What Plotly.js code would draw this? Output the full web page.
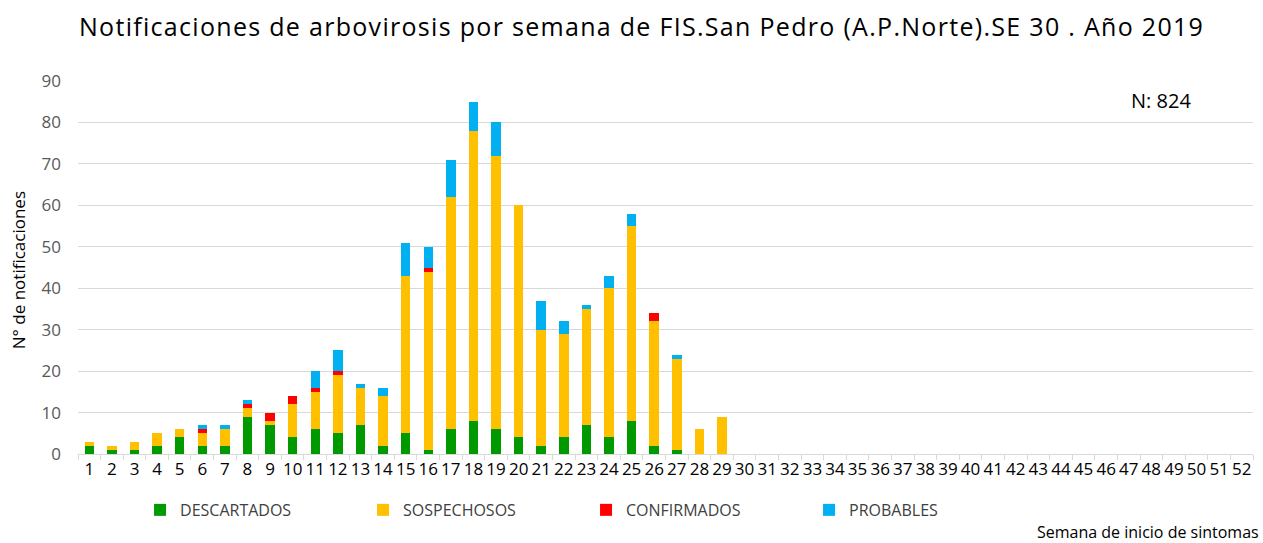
<!DOCTYPE html>
<html>
<head>
<meta charset="utf-8">
<script src="https://cdn.plot.ly/plotly-3.0.1.min.js"></script>
<style>
html,body{margin:0;padding:0;background:#fff;}
#chart{width:1263px;height:543px;}
#chart .gtitle{letter-spacing:1.3px;}
</style>
</head>
<body>
<div id="chart"></div>
<script>
// Semanas epidemiológicas (eje X)
const weeks = ["1","2","3","4","5","6","7","8","9","10","11","12","13","14","15","16","17","18","19","20","21","22","23","24","25","26","27","28","29","30","31","32","33","34","35","36","37","38","39","40","41","42","43","44","45","46","47","48","49","50","51","52"];
// Semanas con notificaciones (1 a 29)
const dataWeeks = ["1","2","3","4","5","6","7","8","9","10","11","12","13","14","15","16","17","18","19","20","21","22","23","24","25","26","27","28","29"];
const descartados = [2,1,1,2,4,2,2,9,7,4,6,5,7,2,5,1,6,8,6,4,2,4,7,4,8,2,1,0,0];
const sospechosos = [1,1,2,3,2,3,4,2,1,8,9,14,9,12,38,43,56,70,66,56,28,25,28,36,47,30,22,6,9];
const confirmados = [0,0,0,0,0,1,0,1,2,2,1,1,0,0,0,1,0,0,0,0,0,0,0,0,0,2,0,0,0];
const probables   = [0,0,0,0,0,1,1,1,0,0,4,5,1,2,8,5,9,7,8,0,7,3,1,3,3,0,1,0,0];
const seriesNames = ["DESCARTADOS","SOSPECHOSOS","CONFIRMADOS","PROBABLES"];
const seriesColors = ["#009900","#FFC000","#FF0000","#00B0F0"];
const yTicks = [0,10,20,30,40,50,60,70,80,90];

const FONT = "Open Sans, sans-serif";
const seriesValues = [descartados, sospechosos, confirmados, probables];
const traces = seriesValues.map((vals, i) => ({
  type: "bar",
  name: seriesNames[i],
  x: dataWeeks,
  y: vals,
  marker: {color: seriesColors[i], line: {width: 0}},
  hoverinfo: "x+y+name"
}));

const layout = {
  width: 1263, height: 543,
  margin: {l: 78, r: 10, t: 81, b: 89},
  paper_bgcolor: "#ffffff", plot_bgcolor: "#ffffff",
  barmode: "stack",
  bargap: 0.58,
  font: {family: FONT, color: "#000000"},
  title: {
    text: "Notificaciones de arbovirosis por semana de FIS.San Pedro (A.P.Norte).SE 30 . Año 2019",
    font: {family: FONT, size: 25, color: "#000000"},
    x: 0.508, xanchor: "center", y: 0.95, yanchor: "middle", xref: "container", yref: "container"
  },
  xaxis: {
    type: "category",
    categoryorder: "array", categoryarray: weeks,
    range: [-0.5, 51.5],
    tickmode: "array", tickvals: weeks, ticktext: weeks,
    tickangle: 0,
    tickson: "boundaries",
    ticks: "outside", ticklen: 5, tickcolor: "#d9d9d9", tickwidth: 1,
    showline: true, linecolor: "#d9d9d9", linewidth: 1,
    showgrid: false, zeroline: false,
    tickfont: {family: FONT, size: 17, color: "#000000"},
    fixedrange: true
  },
  yaxis: {
    range: [0, 90],
    tickmode: "array", tickvals: yTicks,
    showgrid: true, gridcolor: "#d9d9d9", gridwidth: 1.2,
    zeroline: false, showline: false, ticks: "",
    ticklabelstandoff: 16,
    tickfont: {family: FONT, size: 17, color: "#595959"},
    fixedrange: true
  },
  showlegend: true,
  legend: {
    orientation: "h", traceorder: "normal",
    x: 0.0528, xanchor: "left", y: -0.15, yanchor: "middle",
    font: {family: FONT, size: 16, color: "#404040"},
    entrywidth: 178, entrywidthmode: "pixels",
    bgcolor: "rgba(0,0,0,0)"
  },
  annotations: [
    {text: "N: 824", xref: "paper", yref: "paper", x: 0.9217, y: 0.9464, xanchor: "center", yanchor: "middle",
     showarrow: false, font: {family: FONT, size: 20, color: "#000000"}},
    {text: "Semana de inicio de sintomas", xref: "paper", yref: "paper", x: 0.8145, y: -0.209, xanchor: "left", yanchor: "middle",
     showarrow: false, font: {family: FONT, size: 16, color: "#000000"}},
    {text: "N° de notificaciones", xref: "paper", yref: "paper", x: -0.051, y: 0.493, xanchor: "center", yanchor: "middle",
     textangle: -90, showarrow: false, font: {family: FONT, size: 17, color: "#000000"}}
  ]
};

Plotly.newPlot("chart", traces, layout, {displayModeBar: false, staticPlot: true});
</script>
</body>
</html>
